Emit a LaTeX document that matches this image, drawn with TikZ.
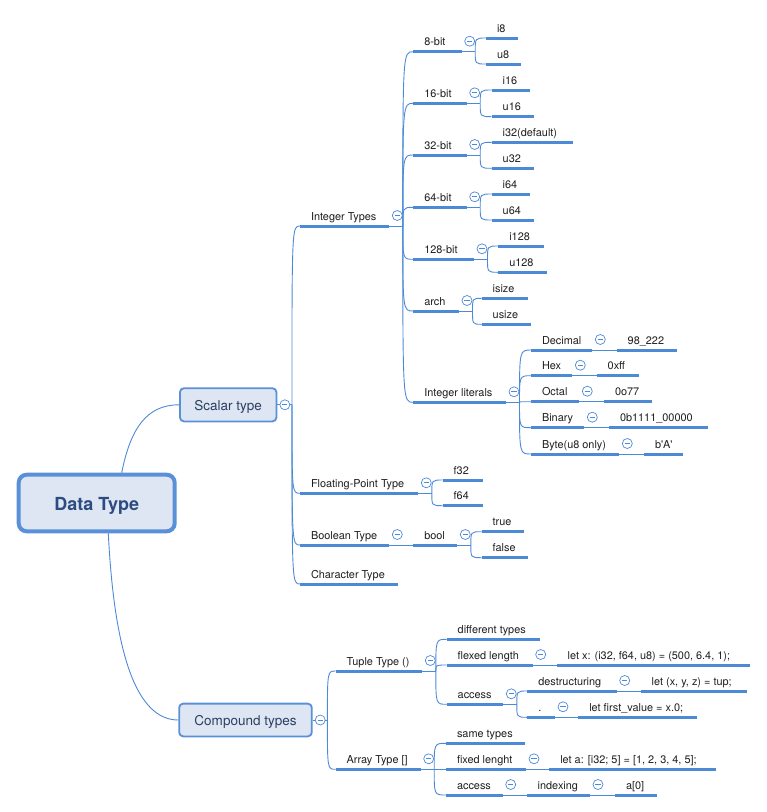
\documentclass[tikz,border=0pt]{standalone}
\usepackage{fontspec}
\setmainfont{TeX Gyre Heros}
\usetikzlibrary{calc}

\definecolor{lineblue}{HTML}{4D8AD6}
\definecolor{boxfill}{HTML}{DDE6F2}
\definecolor{boxline}{HTML}{5A90D8}
\definecolor{boxtext}{HTML}{2B3F60}
\definecolor{roottext}{HTML}{2C4B80}
\definecolor{leaftext}{HTML}{1E1E1E}

\tikzset{
  conn/.style={draw=lineblue, line width=0.9pt},
  uline/.style={draw=lineblue, line width=3pt},
  leaf/.style={anchor=south west, inner xsep=11pt, inner ysep=3.5pt, outer sep=0pt,
    text height=8pt, text depth=2.5pt, font=\fontsize{10.9}{12}\selectfont, text=leaftext},
  tog/.style={circle, draw=lineblue, line width=0.7pt, fill=white, minimum size=10pt, inner sep=0pt,
    path picture={\draw[lineblue, line width=0.7pt]
      ([xshift=-2.6pt]path picture bounding box.center) -- ([xshift=2.6pt]path picture bounding box.center);}},
  topic/.style={draw=boxline, fill=boxfill, line width=1.8pt, rounded corners=4pt, text=boxtext,
    font=\fontsize{13.5}{15}\selectfont, inner sep=0pt, text height=11pt, text depth=0pt},
  rootbox/.style={draw=boxline, fill=boxfill, line width=4pt, rounded corners=8pt, text=roottext,
    font=\fontsize{18}{21}\selectfont\bfseries, inner sep=0pt, text height=14pt, text depth=0pt,
    minimum width=156pt, minimum height=56.6pt}
}

% underlined topic: name, left x, line y, right x, text
\newcommand\mmleaf[5]{%
  \pgfmathsetmacro\mmw{#4-#2-22}%
  \node[leaf] (#1) at (#2,#3) {\makebox[\mmw pt][l]{#5}};
  \draw[uline] (#1.south west) -- (#1.south east);}
% branch from a topic to its sub-topics
\newcommand\mmfork[2]{%
  \draw[conn] (#1.south east) -- ++(13.5,0) coordinate (#1-t);
  \foreach \ch in {#2}{\draw[conn] (#1-t) .. controls (#1-t |- \ch.south west) .. (\ch.south west);}}
% single sub-topic on the same line
\newcommand\mmchain[2]{\draw[conn] (#1.south east) -- (#2.south west);}
% collapse marker
\newcommand\mmtog[1]{\node[tog] (#1-tog) at ($(#1.south east)+(8,-10.5)$) {};}

\begin{document}
\begin{tikzpicture}[x=1pt,y=-1pt]
\useasboundingbox (0,0) rectangle (767,812);

% main topics
\node[rootbox] (root) at (96.7,503) {Data Type};
\node[topic, minimum width=96.5pt, minimum height=33.2pt] (scalar) at (228.2,404.8) {Scalar type};
\node[topic, minimum width=132.6pt, minimum height=32.8pt] (compound) at (245.5,720) {Compound types};

\draw[conn] ([xshift=25pt]root.north) .. controls +(9,-45) and +(-32,0) .. (scalar.west);
\draw[conn] ([xshift=11.6pt]root.south) .. controls +(6,120) and +(-42,0) .. (compound.west);

% scalar types
\mmleaf{intty}{300}{226}{389.3}{Integer Types}
\mmleaf{float}{300}{493.3}{418.3}{Floating-Point Type}
\mmleaf{boolty}{300}{545}{389.3}{Boolean Type}
\mmleaf{charty}{300}{584}{398.3}{Character Type}

\mmleaf{b8}{413.3}{51.7}{461.7}{8-bit}
\mmleaf{b16}{413.3}{103.3}{466.7}{16-bit}
\mmleaf{b32}{413.3}{155}{466.7}{32-bit}
\mmleaf{b64}{413.3}{207.3}{466.7}{64-bit}
\mmleaf{b128}{413.3}{259.3}{474}{128-bit}
\mmleaf{arch}{413.3}{311}{459}{arch}
\mmleaf{lit}{413.3}{402.3}{506}{Integer literals}

\mmleaf{i8}{486}{38}{518.3}{i8}
\mmleaf{u8}{486}{64}{521}{u8}
\mmleaf{i16}{491.7}{90}{530}{i16}
\mmleaf{u16}{491.7}{116.7}{534.3}{u16}
\mmleaf{i32}{491.7}{142.3}{572.7}{i32(default)}
\mmleaf{u32}{491.7}{168.3}{534.3}{u32}
\mmleaf{i64}{491.7}{194}{530}{i64}
\mmleaf{u64}{491.7}{220}{534.3}{u64}
\mmleaf{i128}{498.3}{246}{544.3}{i128}
\mmleaf{u128}{498.3}{272.3}{547.3}{u128}
\mmleaf{isize}{481.7}{298.3}{527.7}{isize}
\mmleaf{usize}{481.7}{324.3}{531}{usize}

\mmleaf{dec}{531}{350}{592.3}{Decimal}
\mmleaf{hex}{531}{375.7}{572.3}{Hex}
\mmleaf{oct}{531}{401.7}{579.3}{Octal}
\mmleaf{bin}{531}{427.7}{584.3}{Binary}
\mmleaf{byte}{531}{454}{619.3}{Byte(u8 only)}
\mmleaf{decv}{616.7}{350}{677.3}{98\_222}
\mmleaf{hexv}{596.7}{375.7}{639.3}{0xff}
\mmleaf{octv}{604}{401.7}{652.3}{0o77}
\mmleaf{binv}{609}{427.7}{708.3}{0b1111\_00000}
\mmleaf{bytev}{644}{454}{683.3}{b\textquotesingle A\textquotesingle}

\mmleaf{f32}{442.7}{480}{482.7}{f32}
\mmleaf{f64}{442.7}{505.7}{482.7}{f64}
\mmleaf{bool}{413.3}{545}{457.3}{bool}
\mmleaf{true}{481.7}{531.7}{524.3}{true}
\mmleaf{false}{481.7}{557.7}{528.3}{false}

% compound types
\mmleaf{tuple}{335.7}{671}{422.3}{Tuple Type ()}
\mmleaf{array}{335.7}{769.3}{420.7}{Array Type []}

\mmleaf{diff}{446.7}{639.3}{540}{different types}
\mmleaf{flen}{446.7}{665}{532.7}{flexed length}
\mmleaf{flenv}{556.7}{665}{750}{let x: (i32, f64, u8) = (500, 6.4, 1);}
\mmleaf{tacc}{446.7}{704.3}{503.3}{access}
\mmleaf{destr}{527.3}{691}{616.7}{destructuring}
\mmleaf{destrv}{640.7}{691}{746.7}{let (x, y, z) = tup;}
\mmleaf{dot}{527.3}{717.3}{555}{.}
\mmleaf{dotv}{578.3}{717.3}{696.7}{let first\_value = x.0;}

\mmleaf{same}{446}{743.3}{525}{same types}
\mmleaf{flen2}{446}{769.3}{526}{fixed lenght}
\mmleaf{flen2v}{549.3}{769.3}{716}{let a: [i32; 5] = [1, 2, 3, 4, 5];}
\mmleaf{aacc}{446}{795}{502.7}{access}
\mmleaf{idx}{526.7}{795}{590}{indexing}
\mmleaf{idxv}{615}{795}{657.3}{a[0]}

% branches from the main topics
\draw[conn] (scalar.east) -- ++(14.6,0) coordinate (scalar-t);
\foreach \ch in {intty,float,boolty,charty}
  {\draw[conn] (scalar-t) .. controls (scalar-t |- \ch.south west) .. (\ch.south west);}
\draw[conn] (compound.east) -- ++(14.7,0) coordinate (compound-t);
\foreach \ch in {tuple,array}
  {\draw[conn] (compound-t) .. controls (compound-t |- \ch.south west) .. (\ch.south west);}

% branches between sub-topics
\mmfork{intty}{b8,b16,b32,b64,b128,arch,lit}
\mmfork{b8}{i8,u8}
\mmfork{b16}{i16,u16}
\mmfork{b32}{i32,u32}
\mmfork{b64}{i64,u64}
\mmfork{b128}{i128,u128}
\mmfork{arch}{isize,usize}
\mmfork{lit}{dec,hex,oct,bin,byte}
\mmchain{dec}{decv}
\mmchain{hex}{hexv}
\mmchain{oct}{octv}
\mmchain{bin}{binv}
\mmchain{byte}{bytev}
\mmfork{float}{f32,f64}
\mmchain{boolty}{bool}
\mmfork{bool}{true,false}
\mmfork{tuple}{diff,flen,tacc}
\mmchain{flen}{flenv}
\mmfork{tacc}{destr,dot}
\mmchain{destr}{destrv}
\mmchain{dot}{dotv}
\mmfork{array}{same,flen2,aacc}
\mmchain{flen2}{flen2v}
\mmchain{aacc}{idx}
\mmchain{idx}{idxv}

% collapse markers
\node[tog] (scalar-tog) at ([xshift=7.5pt]scalar.east) {};
\node[tog] (compound-tog) at ([xshift=7.5pt]compound.east) {};
\foreach \t in {intty,b8,b16,b32,b64,b128,arch,lit,dec,hex,oct,bin,byte,
  float,boolty,bool,tuple,flen,tacc,destr,dot,array,flen2,aacc,idx}
  {\mmtog{\t}}
\end{tikzpicture}
\end{document}
